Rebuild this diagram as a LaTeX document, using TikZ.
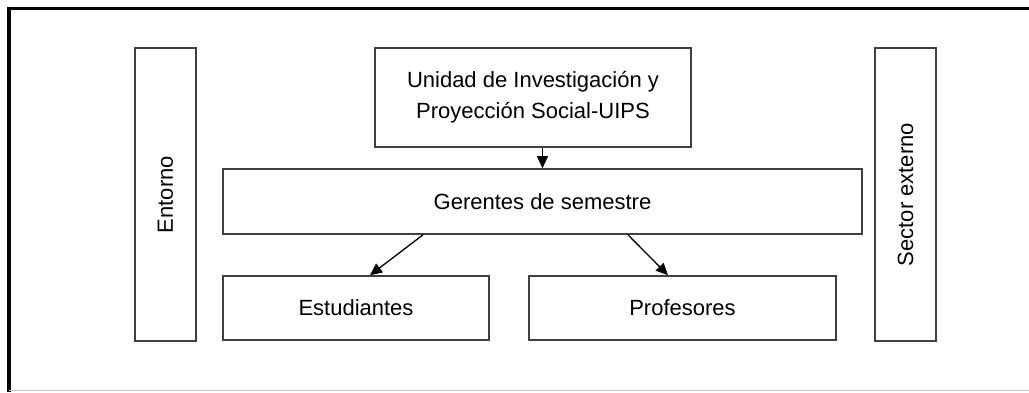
\documentclass[tikz,border=0pt]{standalone}
\usepackage{fontspec}
\setmainfont{Liberation Sans}
\usetikzlibrary{arrows.meta}
\definecolor{boxline}{HTML}{404040}
\definecolor{framegrey}{HTML}{C8C8C8}
\tikzset{
  box/.style={draw=boxline, line width=1.6pt, fill=white, inner sep=0pt, align=center,
    font=\fontsize{22}{31}\selectfont},
  conn/.style={draw=black, line width=1.3pt, -{Triangle[length=12pt,width=11pt]}},
}
\begin{document}
\begin{tikzpicture}[x=1pt,y=-1pt]
\useasboundingbox (0,0) rectangle (1029,392);
% outer frame
\draw[line width=3.2pt] (1029,8.5) -- (9,8.5) -- (9,392);
\draw[framegrey, line width=1pt] (9,390.5) -- (1029,390.5);
% side boxes
\node[box, minimum width=61pt, minimum height=293pt] (ent) at (165.5,194.5) {\rotatebox{90}{Entorno}};
\node[box, minimum width=61pt, minimum height=293pt] (sec) at (905.5,194.5) {\rotatebox{90}{Sector externo}};
% central boxes
\node[box, minimum width=316pt, minimum height=99pt] (uips) at (533,97.5)
  {Unidad de Investigación y\\Proyección Social-UIPS};
\node[box, minimum width=639pt, minimum height=65pt] (ger) at (542.5,201.5) {Gerentes de semestre};
\node[box, minimum width=266pt, minimum height=64pt] (est) at (356,308) {Estudiantes};
\node[box, minimum width=307pt, minimum height=64pt] (prof) at (682.5,308) {Profesores};
% connectors
\draw[conn] (uips.south -| ger.north) -- (ger.north);
\draw[conn] ([xshift=-119.5pt]ger.south) -- ([xshift=14pt]est.north);
\draw[conn] ([xshift=85.5pt]ger.south) -- ([xshift=-14.5pt]prof.north);
\end{tikzpicture}
\end{document}
